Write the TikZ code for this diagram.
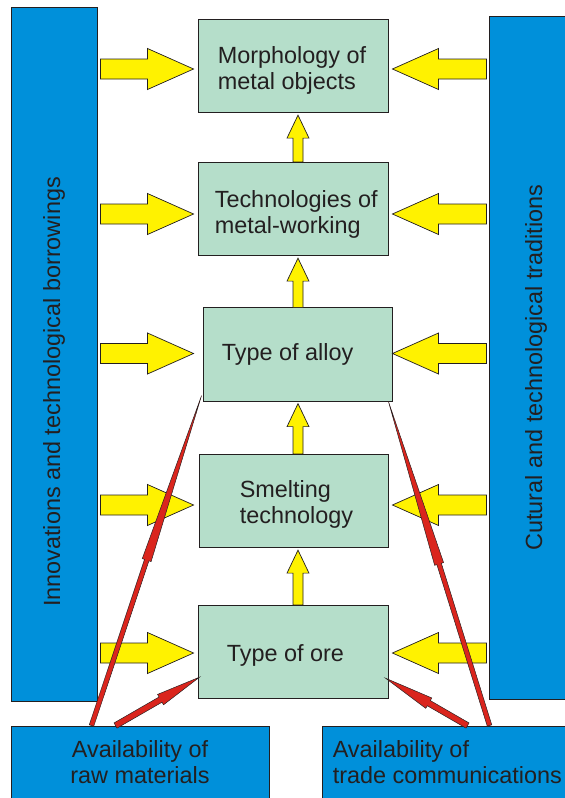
\documentclass[tikz,border=0pt]{standalone}
\usepackage{fontspec}
\setmainfont{Liberation Sans}
\usetikzlibrary{calc}

\definecolor{barblue}{RGB}{0,144,218}
\definecolor{boxgreen}{RGB}{181,222,202}
\definecolor{arryellow}{RGB}{255,242,0}
\definecolor{arrred}{RGB}{218,37,29}
\definecolor{inkdark}{RGB}{35,31,32}

\newcommand{\diagfont}{\fontsize{20}{22.2}\selectfont}

% fat arrow as a polygon: style, from, to, shaft half width, head half width, head length
\newcommand{\fatarrow}[6]{%
  \draw[#1] ($(#2)!#4!90:(#3)$)
    -- ($(#3)!#6!(#2)!#4!90:(#3)$)
    -- ($(#3)!#6!(#2)!#5!90:(#3)$)
    -- (#3)
    -- ($(#3)!#6!(#2)!#5!-90:(#3)$)
    -- ($(#3)!#6!(#2)!#4!-90:(#3)$)
    -- ($(#2)!#4!-90:(#3)$) -- cycle;}

\tikzset{
  stage/.style={draw=inkdark, fill=boxgreen, line width=0.8pt, inner sep=0pt,
    minimum width=5.7cm, minimum height=2.8cm},
  stagetext/.style={anchor=base west, align=left, inner sep=0pt, text=inkdark, font=\diagfont},
  bar/.style={draw=inkdark, fill=barblue, line width=0.8pt, inner sep=0pt},
  bartext/.style={text=inkdark, font=\diagfont, inner sep=0pt},
  yarrow/.style={draw=inkdark, fill=arryellow, line width=0.6pt, line join=miter},
  rarrow/.style={draw=inkdark, fill=arrred, line width=0.4pt, line join=miter}
}

\begin{document}
\begin{tikzpicture}[x=0.03cm, y=-0.03cm]
\useasboundingbox (0,0) rectangle (565,798);
\clip (0,0) rectangle (565,798);

% side bars and bottom boxes
\node[bar, minimum width=2.58cm, minimum height=20.82cm] (inno) at (54,354) {};
\node[bar, minimum width=2.58cm, minimum height=20.49cm] (trad) at (532,357.5) {};
\node[bar, minimum width=7.74cm, minimum height=3.12cm] (raw) at (140,778) {};
\node[bar, minimum width=8.34cm, minimum height=3.12cm] (trade) at (461,778) {};

\node[bartext, rotate=90] (innotxt) at ($(inno)+(0,38)$) {Innovations and technological borrowings};
\node[bartext, rotate=90] (tradtxt) at ($(trad)+(4,10)$) {Cutural and technological traditions};
\node[bartext, align=center, anchor=north] (rawtxt) at ($(raw.north)+(0,15)$) {Availability of\\raw materials};
\node[bartext, align=left, anchor=north west] (tradetxt) at ($(trade.north west)+(11,15)$) {Availability of\\trade communications};

% stages
\node[stage] (morph) at (293,66) {};
\node[stage] (tech) at (293,209) {};
\node[stage, minimum width=5.67cm] (alloy) at (297.5,354.5) {};
\node[stage, minimum width=5.67cm] (smelt) at (293.5,501) {};
\node[stage] (ore) at (293,652) {};

% base of the last line
\node[stagetext] (morphtxt) at ($(morph.north west)+(20,71)$) {Morphology of\\metal objects};
\node[stagetext] (techtxt) at ($(tech.north west)+(17,72)$) {Technologies of\\metal-working};
\node[stagetext] (alloytxt) at ($(alloy.north west)+(19,53)$) {Type of alloy};
\node[stagetext] (smelttxt) at ($(smelt.north west)+(41,70)$) {Smelting\\technology};
\node[stagetext] (oretxt) at ($(ore.north west)+(29,57)$) {Type of ore};

% yellow arrows
\coordinate (inL) at ($(inno.east)+(3,0)$);
\coordinate (tipL) at ($(morph.west)+(-4,0)$);
\coordinate (inR) at ($(trad.west)+(-2,0)$);
\coordinate (tipR) at ($(morph.east)+(4,0)$);
\coordinate (upx) at (298,0);
\foreach \b/\dy in {morph/3,tech/5,alloy/-1,smelt/4,ore/1}{
  \coordinate (s) at ($(inL |- \b)+(0,\dy)$);
  \coordinate (t) at ($(tipL |- \b)+(0,\dy)$);
  \fatarrow{yarrow}{s}{t}{0.3cm}{0.615cm}{1.38cm}
  \coordinate (s) at ($(inR |- \b)+(0,\dy)$);
  \coordinate (t) at ($(tipR |- \b)+(0,\dy)$);
  \fatarrow{yarrow}{s}{t}{0.3cm}{0.615cm}{1.38cm}
}
\foreach \lo/\hi in {tech/morph,alloy/tech,smelt/alloy,ore/smelt}{
  \coordinate (s) at (upx |- \lo.north);
  \coordinate (t) at ($(upx |- \hi.south)+(0,2)$);
  \fatarrow{yarrow}{s}{t}{0.15cm}{0.33cm}{0.69cm}
}

% red arrows
\coordinate (rl1) at ($(raw.north west)+(81,0)$);
\coordinate (rl2) at ($(raw.north west)+(105,0)$);
\coordinate (rr1) at ($(trade.north west)+(168,0)$);
\coordinate (rr2) at ($(trade.north west)+(146,0)$);
\coordinate (tl1) at ($(alloy.south west)+(-1,-6)$);
\coordinate (tl2) at ($(ore.south west)+(2,-22)$);
\coordinate (tr1) at ($(alloy.south east)+(-4,0)$);
\coordinate (tr2) at ($(ore.south east)+(-3,-21)$);
\fatarrow{rarrow}{rl1}{tl1}{0.07cm}{0.14cm}{5.2cm}
\fatarrow{rarrow}{rr1}{tr1}{0.07cm}{0.14cm}{5.1cm}
\fatarrow{rarrow}{rl2}{tl2}{0.09cm}{0.18cm}{1.35cm}
\fatarrow{rarrow}{rr2}{tr2}{0.09cm}{0.18cm}{1.5cm}
\end{tikzpicture}
\end{document}
